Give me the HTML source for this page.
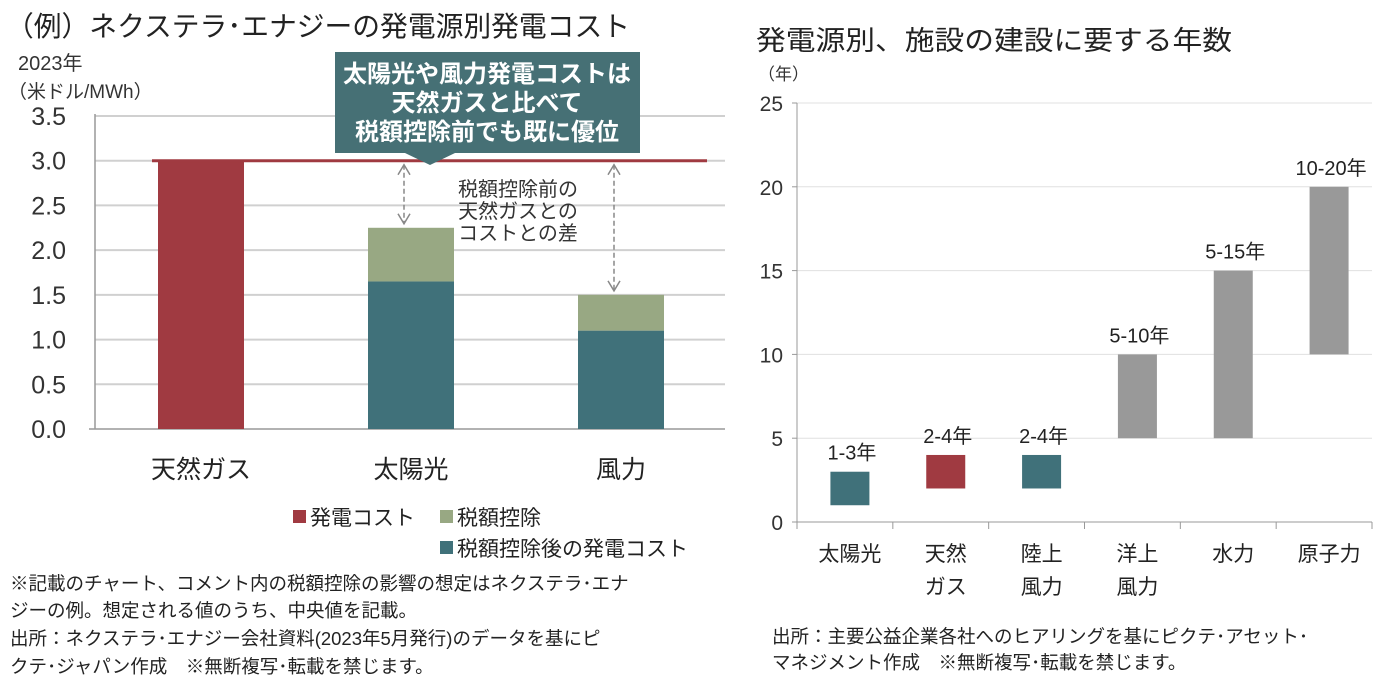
<!DOCTYPE html>
<html><head><meta charset="utf-8">
<style>
body{margin:0;background:#fff;width:1387px;height:678px;overflow:hidden;font-family:"Liberation Sans","Noto Sans CJK JP",sans-serif;}
svg text{font-family:"Liberation Sans","Noto Sans CJK JP",sans-serif;}
</style></head><body>
<svg id="s" width="1387" height="678" xmlns="http://www.w3.org/2000/svg">
<text x="6" y="36" font-size="28" fill="#222" textLength="624" lengthAdjust="spacingAndGlyphs">（例）ネクステラ･エナジーの発電源別発電コスト</text>
<text x="18" y="70" font-size="20" fill="#333">2023年</text>
<text x="8" y="98" font-size="19" fill="#333">（米ドル/MWh）</text>
<g id="L"></g>
<g id="R"></g>
<text x="756" y="50" font-size="27" fill="#222" textLength="476" lengthAdjust="spacingAndGlyphs">発電源別、施設の建設に要する年数</text>
<text x="758" y="80" font-size="17" fill="#333">（年）</text>
<g font-size="18.5" fill="#222">
<text x="10" y="590">※記載のチャート、コメント内の税額控除の影響の想定はネクステラ･エナ</text>
<text x="10" y="617">ジーの例。想定される値のうち、中央値を記載。</text>
<text x="10" y="645">出所：ネクステラ･エナジー会社資料(2023年5月発行)のデータを基にピ</text>
<text x="10" y="673">クテ･ジャパン作成　※無断複写･転載を禁じます。</text>
<text x="772" y="643">出所：主要公益企業各社へのヒアリングを基にピクテ･アセット･</text>
<text x="772" y="669">マネジメント作成　※無断複写･転載を禁じます。</text>
</g>
</svg>
<script>
const NS="http://www.w3.org/2000/svg";
function mk(p,t,a,txt){const e=document.createElementNS(NS,t);for(const k in a)e.setAttribute(k,a[k]);if(txt!==undefined)e.textContent=txt;p.appendChild(e);return e;}
// Left chart data
const leftCats=["天然ガス","太陽光","風力"];
const leftAfter=[3.0,1.65,1.1];
const leftCredit=[0,0.6,0.4];
const leftTicks=[0,0.5,1.0,1.5,2.0,2.5,3.0,3.5];
const gasCost=3.0;
// Right chart data
const rightCats=[["太陽光"],["天然","ガス"],["陸上","風力"],["洋上","風力"],["水力"],["原子力"]];
const rightLow=[1,2,2,5,5,10];
const rightHigh=[3,4,4,10,15,20];
const rightLabels=["1-3年","2-4年","2-4年","5-10年","5-15年","10-20年"];
const rightTicks=[0,5,10,15,20,25];

const L=document.getElementById('L');
const lx0=95,lx1=725,ly0=429,ly1=116;
const ly=v=>ly0-(v/3.5)*(ly0-ly1);
const lbw=(lx1-lx0)/leftCats.length;
const lcx=i=>lx0+lbw*(i+0.5)+1;
leftTicks.forEach(t=>{
 if(t>0){const g=mk(L,'line',{x1:lx0,x2:lx1,y1:ly(t),y2:ly(t),stroke:'#d0d0d0','stroke-width':2});
 
 }
 const tx=mk(L,'text',{x:66,y:ly(t)+9,'font-size':25,fill:'#333','text-anchor':'end'},t.toFixed(1));
 
 
});
mk(L,'line',{x1:lx0,x2:lx0,y1:ly1-2,y2:ly0,stroke:'#999','stroke-width':1.5});
mk(L,'line',{x1:lx0-6,x2:lx1,y1:ly0,y2:ly0,stroke:'#999','stroke-width':1.5});
leftCats.forEach((c,i)=>{
 const w=86,x=lcx(i)-w/2;
 const b=mk(L,'rect',{x:x,y:ly(leftAfter[i]),width:w,height:ly0-ly(leftAfter[i]),fill:i==0?'#a03a41':'#40717a'});
 
 
 if(leftCredit[i]>0){const r=mk(L,'rect',{x:x,y:ly(leftAfter[i]+leftCredit[i]),width:w,height:ly(leftAfter[i])-ly(leftAfter[i]+leftCredit[i]),fill:'#98a883'});
 
 }
 const t=mk(L,'text',{x:lcx(i),y:478,'font-size':25,fill:'#222','text-anchor':'middle'},c);
 
 
 if(i>0){const top=leftAfter[i]+leftCredit[i];
  const X=lcx(i)-7;
  const a=mk(L,'line',{x1:X,x2:X,y1:ly(gasCost)+4,y2:ly(top)-4,stroke:'#888','stroke-width':1.5,'stroke-dasharray':'5,3'});
  
  
  mk(L,'path',{d:`M${X-6} ${ly(gasCost)+14}L${X} ${ly(gasCost)+4}L${X+6} ${ly(gasCost)+14}M${X-6} ${ly(top)-14}L${X} ${ly(top)-4}L${X+6} ${ly(top)-14}`,stroke:'#888','stroke-width':1.5,fill:'none'});
 }
});
const gl=mk(L,'line',{x1:152,x2:707,y1:ly(gasCost),y2:ly(gasCost),stroke:'#a03a41','stroke-width':3});


const cb=mk(L,'path',{d:'M335 52H640V153H455L430 165L405 153H335Z',fill:'#467075'});


["太陽光や風力発電コストは","天然ガスと比べて","税額控除前でも既に優位"].forEach((s,k)=>{
 const t=mk(L,'text',{x:487,y:82+k*29,'font-size':24,fill:'#fff','font-weight':'bold','text-anchor':'middle'},s);
 
 
});
["税額控除前の","天然ガスとの","コストとの差"].forEach((s,k)=>{
 const t=mk(L,'text',{x:518,y:196+k*22,'font-size':20,fill:'#333','text-anchor':'middle'},s);
 
 
});
[[293,517,'#a03a41','発電コスト'],[440,517,'#98a883','税額控除'],[440,548,'#40717a','税額控除後の発電コスト']].forEach(l=>{
 const r=mk(L,'rect',{x:l[0],y:l[1]-7,width:13,height:13,fill:l[2]});
 
 
 const t=mk(L,'text',{x:l[0]+17,y:l[1]+8,'font-size':21,fill:'#222'},l[3]);
 
 
});

const R=document.getElementById('R');
const rx0=797,rx1=1372,ry0=522,ry1=103;
const ry=v=>ry0-(v/25)*(ry0-ry1);
const rbw=(rx1-rx0)/rightCats.length;
const rcx=i=>rx0+rbw*(i+0.5)+5;
rightTicks.forEach(t=>{
 if(t>0){const g=mk(R,'line',{x1:rx0,x2:rx1,y1:ry(t),y2:ry(t),stroke:'#e0e0e0','stroke-width':1});
 
 }
 mk(R,'line',{x1:rx0-5,x2:rx0,y1:ry(t),y2:ry(t),stroke:'#999'});
 const tx=mk(R,'text',{x:783,y:ry(t)+8,'font-size':21,fill:'#333','text-anchor':'end'},t);
 
 
});
mk(R,'line',{x1:rx0,x2:rx0,y1:ry1,y2:ry0,stroke:'#999'});
mk(R,'line',{x1:rx0,x2:rx1,y1:ry0,y2:ry0,stroke:'#999'});
for(let i=0;i<=rightCats.length;i++)mk(R,'line',{x1:rx0+rbw*i,x2:rx0+rbw*i,y1:ry0,y2:ry0+7,stroke:'#999'});
const cols=['#40717a','#a03a41','#40717a','#999','#999','#999'];
rightCats.forEach((c,i)=>{
 const w=39;
 const b=mk(R,'rect',{x:rcx(i)-w/2,y:ry(rightHigh[i]),width:w,height:ry(rightLow[i])-ry(rightHigh[i]),fill:cols[i]});
 
 
 const lb=mk(R,'text',{x:rcx(i)+2,y:ry(rightHigh[i])-12,'font-size':20,fill:'#222','text-anchor':'middle'},rightLabels[i]);
 
 
 c.forEach((s,k)=>{
  const t=mk(R,'text',{x:rcx(i),y:561+k*33,'font-size':21,fill:'#222','text-anchor':'middle'},s);
  
  
 });
});
</script>
</body></html>
